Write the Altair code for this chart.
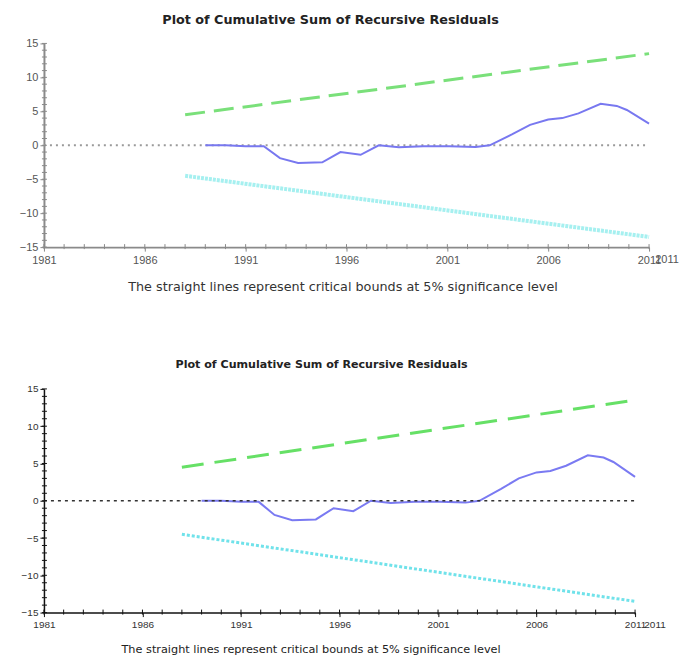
import altair as alt
import pandas as pd

FONT = "Liberation Sans"
TFONT = "DejaVu Sans"
title_text = "Plot of Cumulative Sum of Recursive Residuals"
note_text = "The straight lines represent critical bounds at 5% significance level"

# CUSUM of recursive residuals
cusum_years = [1989.0, 1990.0, 1991.0, 1991.9, 1992.7, 1993.6, 1994.8, 1995.7, 1996.7,
               1997.6, 1998.6, 1999.8, 2001.1, 2002.4, 2003.1, 2004.2, 2005.1, 2006.0,
               2006.7, 2007.5, 2008.6, 2009.4, 2009.9, 2011.0]
cusum_values = [0.0, 0.0, -0.15, -0.15, -1.9, -2.6, -2.5, -1.0, -1.4,
                0.0, -0.3, -0.15, -0.15, -0.25, 0.0, 1.6, 3.0, 3.8,
                4.0, 4.7, 6.1, 5.8, 5.2, 3.2]
# 5% critical bounds
bound_years = [1988, 2011]
upper_bound = [4.5, 13.5]
lower_bound = [-4.5, -13.5]
# zero reference line
zero_years = [1981, 2011]
zero_values = [0, 0]
# ticks
x_major = [1981, 1986, 1991, 1996, 2001, 2006, 2011]
y_major = [-15, -10, -5, 0, 5, 10, 15]
x_minor = list(range(1981, 2012))
y_minor = list(range(-15, 16))
extra_label_year = [2011]
extra_label_text = ["2011"]

cusum_df = pd.DataFrame({"year": cusum_years, "value": cusum_values})
upper_df = pd.DataFrame({"year": bound_years, "value": upper_bound})
lower_df = pd.DataFrame({"year": bound_years, "value": lower_bound})
zero_df = pd.DataFrame({"year": zero_years, "value": zero_values})
xminor_df = pd.DataFrame({"year": x_minor})
yminor_df = pd.DataFrame({"value": y_minor})
extra_df = pd.DataFrame({"year": extra_label_year, "label": extra_label_text})


def panel(w, h, s):
    xs = alt.Scale(domain=[1981, 2011], nice=False, zero=False)
    ys = alt.Scale(domain=[-15, 15], nice=False, zero=False)
    x_axis = alt.Axis(
        values=x_major, format="d", title=note_text, grid=False,
        titleFont=TFONT, titleFontSize=s["note_size"], titleFontWeight="normal",
        titleColor=s["note_color"], titlePadding=s["title_pad"], titleX=w / 2 + s["note_dx"],
        labelFont=FONT, labelFontSize=s["label_size"], labelColor=s["label_color"],
        labelPadding=s["label_pad"], labelFlush=False,
        tickSize=4, tickColor=s["axis"], tickWidth=s["tick_w"],
        domainColor=s["axis"], domainWidth=s["domain_w"],
    )
    y_axis = alt.Axis(
        values=y_major, title=None, grid=False,
        labelFont=FONT, labelFontSize=s["label_size"], labelColor=s["label_color"],
        labelPadding=2, labelFlush=False,
        tickSize=4, tickColor=s["axis"], tickWidth=s["tick_w"],
        domainColor=s["axis"], domainWidth=s["domain_w"],
        minExtent=30, maxExtent=30,
    )
    X = alt.X("year:Q", scale=xs, axis=x_axis)
    Y = alt.Y("value:Q", scale=ys, axis=y_axis)

    zero = alt.Chart(zero_df).mark_line(
        color=s["zero_color"], strokeDash=s["zero_dash"], strokeWidth=s["zero_w"]
    ).encode(x=X, y=Y)
    upper = alt.Chart(upper_df).mark_line(
        color=s["green"], strokeDash=s["green_dash"], strokeWidth=3
    ).encode(x=X, y=Y)
    lower = alt.Chart(lower_df).mark_line(
        color=s["cyan"], strokeDash=s["cyan_dash"], strokeWidth=s["cyan_w"]
    ).encode(x=X, y=Y)
    cusum = alt.Chart(cusum_df).mark_line(
        color=s["blue"], strokeWidth=2
    ).encode(x=X, y=Y)
    yminor = alt.Chart(yminor_df).mark_rule(
        color=s["axis"], strokeWidth=1
    ).encode(y=Y, x=alt.value(-2), x2=alt.value(3))
    xminor = alt.Chart(xminor_df).mark_rule(
        color=s["axis"], strokeWidth=1
    ).encode(x=X, y=alt.value(h - 3), y2=alt.value(h + 2))
    extra = alt.Chart(extra_df).mark_text(
        font=FONT, fontSize=s["label_size"], color=s["label_color"],
        dx=s["extra_dx"], baseline="middle", align="center"
    ).encode(x=X, y=alt.value(h + s["extra_y"]), text="label:N")

    if s["zero_on_top"]:
        layers = [upper, lower, cusum, zero, yminor, xminor, extra]
    else:
        layers = [zero, upper, lower, cusum, yminor, xminor, extra]

    return alt.layer(*layers).properties(
        width=w, height=h,
        title=alt.TitleParams(
            title_text, font=TFONT, fontSize=s["title_size"], fontWeight="bold",
            color="#222222", anchor="middle", offset=s["title_offset"], dx=s["title_dx"],
        ),
    )


top_style = dict(
    note_size=12.8, note_color="#333333", title_pad=15, note_dx=-4,
    label_size=11, label_color="#555555", label_pad=3.5,
    axis="#8a8a8a", tick_w=1, domain_w=2,
    zero_color="#9a9a9a", zero_dash=[2, 4], zero_w=2,
    green="#7ae07a", green_dash=[20, 9],
    cyan="#a6f0f0", cyan_dash=[3, 1], cyan_w=4,
    blue="#7878f0", zero_on_top=False,
    extra_dx=18, extra_y=13,
    title_size=12.8, title_offset=11, title_dx=-16,
)
bottom_style = dict(
    note_size=11.3, note_color="#222222", title_pad=14, note_dx=-29,
    label_size=10, label_color="#333333", label_pad=3,
    axis="#111111", tick_w=1, domain_w=1.5,
    zero_color="#333333", zero_dash=[3, 4], zero_w=1.5,
    green="#66e066", green_dash=[22, 11],
    cyan="#70e2ea", cyan_dash=[3, 2], cyan_w=3,
    blue="#7a7af2", zero_on_top=True,
    extra_dx=20, extra_y=12,
    title_size=11.1, title_offset=14, title_dx=-18,
)

top = panel(606, 204, top_style)
bottom = panel(592, 224, bottom_style)

chart = alt.vconcat(top, bottom, spacing=64).configure(
    padding={"left": 6, "top": 5, "right": 5, "bottom": 0}
).configure_view(stroke=None)

chart.save("out.html", embed_options={"renderer": "svg", "actions": False})
